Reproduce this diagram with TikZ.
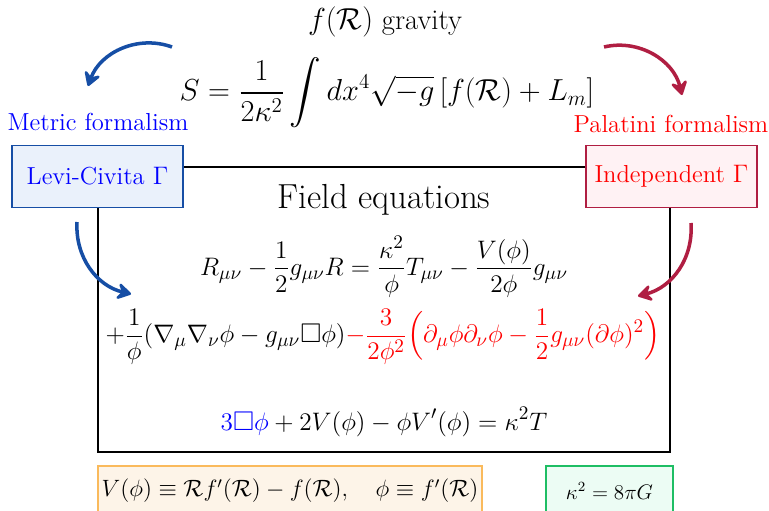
\documentclass[tikz,border=0pt]{standalone}
\usepackage{amsmath,amssymb}
\usepackage{graphicx}
\usepackage{xcolor}
\usepackage{tikz}
\usetikzlibrary{arrows.meta,positioning}

\definecolor{metblue}{RGB}{22,78,165}
\definecolor{palred}{RGB}{176,30,66}
\definecolor{metfill}{RGB}{234,241,251}
\definecolor{palfill}{RGB}{255,242,244}
\definecolor{potdraw}{RGB}{250,186,92}
\definecolor{potfill}{RGB}{253,244,232}
\definecolor{kapdraw}{RGB}{30,190,100}
\definecolor{kapfill}{RGB}{236,252,244}

\begin{document}
\begin{tikzpicture}[x=0.02cm, y=-0.02cm,
    gammabox/.style={rectangle, draw, line width=1pt, minimum width=3.42cm, minimum height=1.24cm, font=\fontsize{14}{16}\selectfont, inner sep=2pt},
    infobox/.style={rectangle, draw, line width=1pt, minimum height=1.0cm, inner sep=1pt},
    formlabel/.style={font=\fontsize{14}{16}\selectfont},
    eqn/.style={font=\fontsize{15.4}{18}\selectfont, inner sep=0pt},
    curvarr/.style={-{Stealth[length=10pt, width=12pt, inset=4pt, round]}, line width=2pt},
]
\useasboundingbox (0,0) rectangle (769,511);

% === ACTION ===
\node[font=\fontsize{16.3}{19}\selectfont] (title) at (385,22) {$f(\mathcal{R})$ gravity};
\node[font=\fontsize{18}{21}\selectfont] (action) at (387,93)
    {$\displaystyle S=\frac{1}{2\kappa^2}\int dx^4\sqrt{-g}\,[f(\mathcal{R})+L_m]$};

% === FORMALISMS ===
\node[formlabel, text=blue] (metric) at (98,122) {Metric formalism};
\node[formlabel, text=red] (palatini) at (671,124) {Palatini formalism};

\coordinate (mA) at (172,47);
\coordinate (mB) at (88,86);
\coordinate (pA) at (604,47);
\coordinate (pB) at (682,95);
\draw[curvarr, metblue] (mA) to[bend right=45] (mB);
\draw[curvarr, palred] (pA) to[bend left=45] (pB);

% === FIELD EQUATIONS ===
\node[draw, line width=1pt, minimum width=11.44cm, minimum height=5.7cm] (field) at (384,309.5) {};

\node[gammabox, draw=metblue, fill=metfill, text=blue] (levi) at (97.5,176.5) {Levi-Civita $\Gamma$};
\node[gammabox, draw=palred, fill=palfill, text=red] (indep) at (671.5,176.5) {Independent $\Gamma$};

\node[font=\fontsize{19.8}{23}\selectfont] (fieldlabel) at (384,200) {Field equations};

\node[eqn] (eqone) at (384,267)
    {$\displaystyle R_{\mu\nu}-\frac{1}{2}g_{\mu\nu}R=\frac{\kappa^2}{\phi}T_{\mu\nu}-\frac{V(\phi)}{2\phi}g_{\mu\nu}$};
\node[eqn] (eqtwo) at (383,337)
    {$\displaystyle +\frac{1}{\phi}(\nabla_\mu\nabla_\nu\phi-g_{\mu\nu}\Box\phi)
     {\color{red}-\frac{3}{2\phi^2}\Bigl(\partial_\mu\phi\partial_\nu\phi-\frac{1}{2}g_{\mu\nu}(\partial\phi)^2\Bigr)}$};
\node[eqn] (eqthree) at (384,422)
    {$\displaystyle {\color{blue}3\Box\phi}+2V(\phi)-\phi V'(\phi)=\kappa^2T$};

\coordinate (lA) at (77,222);
\coordinate (lB) at (131,294);
\coordinate (iA) at (691,223);
\coordinate (iB) at (638,296);
\draw[curvarr, metblue] (lA) to[bend right=40] (lB);
\draw[curvarr, palred] (iA) to[bend left=40] (iB);

% === DEFINITIONS ===
\node[infobox, draw=potdraw, fill=potfill, minimum width=7.68cm, font=\fontsize{12}{15}\selectfont] (potential) at (290,491)
    {\scalebox{1.12}{$V(\phi)\equiv\mathcal{R}f'(\mathcal{R})-f(\mathcal{R}),\quad \phi\equiv f'(\mathcal{R})$}};
\node[infobox, draw=kapdraw, fill=kapfill, minimum width=2.54cm, font=\fontsize{12}{15}\selectfont] (kappa) at (609.5,491)
    {$\kappa^2=8\pi G$};

\end{tikzpicture}
\end{document}
